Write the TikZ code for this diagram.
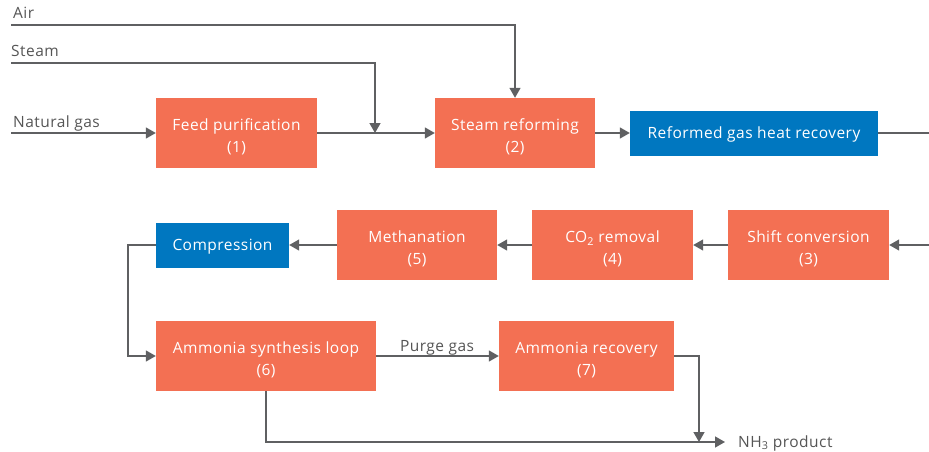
\documentclass[tikz,border=0pt]{standalone}
\usepackage{fontspec}
\setmainfont[LetterSpace=3]{Open Sans}
\usetikzlibrary{arrows.meta}
\definecolor{boxor}{HTML}{F37053}
\definecolor{boxbl}{HTML}{0077C0}
\definecolor{linegr}{HTML}{5F6062}
\definecolor{labgr}{HTML}{555555}
\tikzset{
  proc/.style={fill=boxor, text=white, inner sep=0pt, align=center, text height=41pt,
    font=\fontsize{15.5}{22}\selectfont},
  aux/.style={fill=boxbl, text=white, inner sep=0pt, align=center, text height=15pt,
    font=\fontsize{15.5}{22}\selectfont},
  lab/.style={text=labgr, inner sep=0pt, font=\fontsize{15.5}{16}\selectfont},
  flow/.style={draw=linegr, line width=1.4pt, -{Triangle[length=10pt,width=11pt]}},
  plain/.style={draw=linegr, line width=1.4pt}
}
\begin{document}
\begin{tikzpicture}[x=1pt,y=-1pt]
\useasboundingbox (0,0) rectangle (929,452);
% boxes
\node[proc, minimum width=161pt, minimum height=70pt] (fp) at (236.5,133) {Feed purification\\(1)};
\node[proc, minimum width=160pt, minimum height=70pt] (sr) at (515,133) {Steam reforming\\(2)};
\node[aux, minimum width=248pt, minimum height=45pt] (hr) at (754,133) {Reformed gas heat recovery};
\node[proc, minimum width=161pt, minimum height=70pt] (sc) at (808.5,245) {Shift conversion\\(3)};
\node[proc, minimum width=161pt, minimum height=70pt] (cr) at (612.5,245) {CO\textsubscript{2} removal\\(4)};
\node[proc, minimum width=160pt, minimum height=70pt] (me) at (417,245) {Methanation\\(5)};
\node[aux, minimum width=133pt, minimum height=45pt] (co) at (222.5,245) {Compression};
\node[proc, minimum width=220pt, minimum height=70pt] (sl) at (266,356) {Ammonia synthesis loop\\(6)};
\node[proc, minimum width=175pt, minimum height=70pt] (ar) at (586.5,356) {Ammonia recovery\\(7)};
% free ends
\coordinate (ngin) at (11,133);
\coordinate (stin) at (11,63);
\coordinate (airin) at (11,25);
\coordinate (stjoin) at (375,133);
\coordinate (hrout) at (929,133);
\coordinate (scin) at (929,245);
\coordinate (cobend) at (128,245);
\coordinate (arbend) at (699,356);
\coordinate (nhjoin) at (699,442);
\coordinate (nhend) at (725,442);
% labels
\node[lab, anchor=base west] (lng) at (13,127) {Natural gas};
\node[lab, anchor=base west] (lst) at (11,57) {Steam};
\node[lab, anchor=base west] (lair) at (13,19) {Air};
\node[lab, anchor=base west] (lnh) at (738,447) {NH\textsubscript{3} product};
\node[lab, anchor=base] (lpg) at (437,351) {Purge gas};
% connectors
\draw[flow] (ngin) -- (fp.west);
\draw[flow] (fp.east) -- (sr.west);
\draw[flow] (stin) -| (stjoin);
\draw[flow] (airin) -| (sr.north);
\draw[flow] (sr.east) -- (hr.west);
\draw[plain] (hr.east) -- (hrout);
\draw[flow] (scin) -- (sc.east);
\draw[flow] (sc.west) -- (cr.east);
\draw[flow] (cr.west) -- (me.east);
\draw[flow] (me.west) -- (co.east);
\draw[flow] (co.west) -- (cobend) |- (sl.west);
\draw[flow] (sl.east) -- (ar.west);
\draw[flow] (ar.east) -- (arbend) -- (nhjoin);
\draw[flow] (sl.south) |- (nhend);
\end{tikzpicture}
\end{document}
